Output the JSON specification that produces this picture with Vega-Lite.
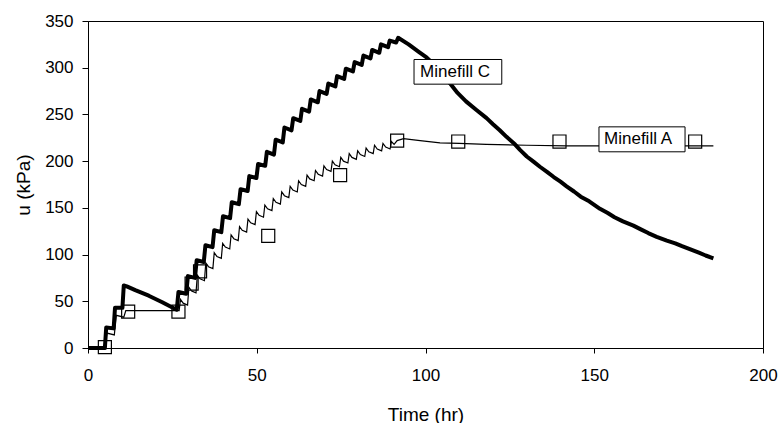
{
  "$schema": "https://vega.github.io/schema/vega-lite/v6.json",
  "width": 675,
  "height": 327,
  "autosize": "none",
  "padding": {"left": 88, "top": 21, "right": 17, "bottom": 75},
  "background": "white",
  "config": {
    "font": "Liberation Sans",
    "view": {"stroke": "black", "strokeWidth": 1},
    "axis": {
      "grid": false,
      "domainColor": "black",
      "tickColor": "black",
      "labelColor": "black",
      "titleColor": "black",
      "labelFont": "Liberation Sans",
      "titleFont": "Liberation Sans",
      "labelFontSize": 17,
      "titleFontSize": 19,
      "titleFontWeight": "normal"
    }
  },
  "datasets": {
    "C": [
      {"t": 0, "u": 0}, {"t": 5, "u": 0}, {"t": 5.4, "u": 22}, {"t": 7.6, "u": 21}, {"t": 8, "u": 43}, {"t": 10.2, "u": 43},
      {"t": 10.6, "u": 67}, {"t": 11.5, "u": 66}, {"t": 14, "u": 62}, {"t": 18, "u": 56}, {"t": 22, "u": 49}, {"t": 26.3, "u": 41},
      {"t": 26.8, "u": 60}, {"t": 29.1, "u": 58}, {"t": 29.6, "u": 77}, {"t": 31.7, "u": 75}, {"t": 32.2, "u": 94},
      {"t": 34.3, "u": 92}, {"t": 34.8, "u": 110}, {"t": 36.9, "u": 108}, {"t": 37.4, "u": 126},
      {"t": 39.5, "u": 124}, {"t": 40.0, "u": 141}, {"t": 42.1, "u": 139}, {"t": 42.6, "u": 156},
      {"t": 44.7, "u": 154}, {"t": 45.2, "u": 170}, {"t": 47.3, "u": 168}, {"t": 47.8, "u": 184},
      {"t": 49.9, "u": 182}, {"t": 50.4, "u": 197}, {"t": 52.5, "u": 195}, {"t": 53.0, "u": 210},
      {"t": 55.1, "u": 207}, {"t": 55.6, "u": 223}, {"t": 57.7, "u": 220}, {"t": 58.2, "u": 236},
      {"t": 60.3, "u": 233}, {"t": 60.8, "u": 246}, {"t": 62.9, "u": 243}, {"t": 63.4, "u": 256},
      {"t": 65.5, "u": 253}, {"t": 66.0, "u": 266}, {"t": 68.1, "u": 263}, {"t": 68.6, "u": 275},
      {"t": 70.7, "u": 272}, {"t": 71.2, "u": 283}, {"t": 73.3, "u": 280}, {"t": 73.8, "u": 291},
      {"t": 75.9, "u": 288}, {"t": 76.4, "u": 299}, {"t": 78.5, "u": 296}, {"t": 79.0, "u": 306},
      {"t": 81.1, "u": 303}, {"t": 81.6, "u": 313}, {"t": 83.7, "u": 310}, {"t": 84.2, "u": 319},
      {"t": 86.3, "u": 316}, {"t": 86.8, "u": 325}, {"t": 88.9, "u": 322}, {"t": 89.4, "u": 329},
      {"t": 91.3, "u": 327}, {"t": 91.9, "u": 332},
      {"t": 95, "u": 325}, {"t": 98, "u": 317}, {"t": 100.3, "u": 311}, {"t": 102, "u": 305}, {"t": 104, "u": 297},
      {"t": 107.3, "u": 283}, {"t": 109.5, "u": 273}, {"t": 112, "u": 264}, {"t": 115, "u": 255}, {"t": 118.1, "u": 246},
      {"t": 120, "u": 239.5}, {"t": 122, "u": 233}, {"t": 124, "u": 226}, {"t": 126.5, "u": 218}, {"t": 128, "u": 212},
      {"t": 130, "u": 205}, {"t": 132, "u": 199.5}, {"t": 133.9, "u": 194}, {"t": 136, "u": 188.5}, {"t": 138, "u": 183},
      {"t": 140, "u": 178}, {"t": 141.8, "u": 173}, {"t": 144, "u": 167.5}, {"t": 146, "u": 162}, {"t": 148.5, "u": 157},
      {"t": 151.7, "u": 149}, {"t": 154, "u": 144.5}, {"t": 156, "u": 140}, {"t": 158.5, "u": 135.5}, {"t": 161.6, "u": 131},
      {"t": 163.8, "u": 127}, {"t": 166, "u": 123}, {"t": 168.5, "u": 119}, {"t": 171.5, "u": 115}, {"t": 174, "u": 112},
      {"t": 176, "u": 109}, {"t": 178.5, "u": 105.5}, {"t": 181, "u": 102}, {"t": 183, "u": 99}, {"t": 185.3, "u": 96}
    ],
    "A": [
      {"t": 0, "u": 0}, {"t": 5, "u": 0}, {"t": 5.6, "u": 16}, {"t": 7.8, "u": 14}, {"t": 8.4, "u": 35}, {"t": 10.6, "u": 33},
      {"t": 11.2, "u": 40}, {"t": 27.0, "u": 40},
      {"t": 27.4, "u": 52}, {"t": 28.2, "u": 48}, {"t": 29.5, "u": 46},
      {"t": 29.9, "u": 65}, {"t": 30.7, "u": 61}, {"t": 32.0, "u": 59},
      {"t": 32.4, "u": 78}, {"t": 33.2, "u": 74}, {"t": 34.5, "u": 72},
      {"t": 34.9, "u": 91}, {"t": 35.7, "u": 87}, {"t": 37.0, "u": 85},
      {"t": 37.4, "u": 102}, {"t": 38.2, "u": 98}, {"t": 39.5, "u": 96},
      {"t": 39.9, "u": 112}, {"t": 40.7, "u": 108}, {"t": 42.0, "u": 106},
      {"t": 42.4, "u": 121}, {"t": 43.2, "u": 117}, {"t": 44.5, "u": 115},
      {"t": 44.9, "u": 130}, {"t": 45.7, "u": 126}, {"t": 47.0, "u": 124},
      {"t": 47.4, "u": 138}, {"t": 48.2, "u": 134}, {"t": 49.5, "u": 132},
      {"t": 49.9, "u": 146}, {"t": 50.7, "u": 142}, {"t": 52.0, "u": 140},
      {"t": 52.4, "u": 153}, {"t": 53.2, "u": 149}, {"t": 54.5, "u": 147},
      {"t": 54.9, "u": 160}, {"t": 55.7, "u": 156}, {"t": 57.0, "u": 154},
      {"t": 57.4, "u": 167}, {"t": 58.2, "u": 163}, {"t": 59.5, "u": 161},
      {"t": 59.9, "u": 173}, {"t": 60.7, "u": 169}, {"t": 62.0, "u": 167},
      {"t": 62.4, "u": 179}, {"t": 63.2, "u": 175}, {"t": 64.5, "u": 173},
      {"t": 64.9, "u": 185}, {"t": 65.7, "u": 181}, {"t": 67.0, "u": 179},
      {"t": 67.4, "u": 190}, {"t": 68.2, "u": 186}, {"t": 69.5, "u": 184},
      {"t": 69.9, "u": 195}, {"t": 70.7, "u": 191}, {"t": 72.0, "u": 189},
      {"t": 72.4, "u": 200}, {"t": 73.2, "u": 196}, {"t": 74.5, "u": 194},
      {"t": 74.9, "u": 204}, {"t": 75.7, "u": 200}, {"t": 77.0, "u": 198},
      {"t": 77.4, "u": 208}, {"t": 78.2, "u": 204}, {"t": 79.5, "u": 202},
      {"t": 79.9, "u": 211}, {"t": 80.7, "u": 207}, {"t": 82.0, "u": 205},
      {"t": 82.4, "u": 214}, {"t": 83.2, "u": 210}, {"t": 84.5, "u": 208},
      {"t": 84.9, "u": 217}, {"t": 85.7, "u": 213}, {"t": 87.0, "u": 211},
      {"t": 87.4, "u": 219}, {"t": 88.2, "u": 215}, {"t": 89.5, "u": 213},
      {"t": 89.9, "u": 221}, {"t": 90.7, "u": 218}, {"t": 91.6, "u": 222}, {"t": 93.5, "u": 224},
      {"t": 98.4, "u": 222}, {"t": 104.3, "u": 219.6}, {"t": 110, "u": 219}, {"t": 118, "u": 218},
      {"t": 130, "u": 217}, {"t": 141.8, "u": 216.4}, {"t": 185.3, "u": 216.4}
    ],
    "Aobs": [
      {"t": 5, "u": 1}, {"t": 11.9, "u": 39}, {"t": 26.8, "u": 39}, {"t": 30.7, "u": 69}, {"t": 33.2, "u": 82},
      {"t": 53.4, "u": 120}, {"t": 74.7, "u": 185}, {"t": 91.6, "u": 222}, {"t": 109.7, "u": 221},
      {"t": 139.7, "u": 221}, {"t": 179.9, "u": 221}
    ],
    "boxes": [
      {"t": 96.6, "t2": 122.6, "u": 308.8, "u2": 282.4},
      {"t": 151.4, "t2": 176.9, "u": 236.7, "u2": 210}
    ],
    "labels": [
      {"t": 98.4, "u": 295.5, "label": "Minefill C"},
      {"t": 152.9, "u": 223.3, "label": "Minefill A"}
    ]
  },
  "encoding": {
    "x": {
      "field": "t", "type": "quantitative",
      "scale": {"domain": [0, 200], "nice": false, "zero": false},
      "axis": {"title": "Time (hr)", "values": [0, 50, 100, 150, 200], "tickSize": 5, "labelPadding": 14, "titlePadding": 22, "labelFlush": false}
    },
    "y": {
      "field": "u", "type": "quantitative",
      "scale": {"domain": [0, 350], "nice": false},
      "axis": {"title": "u (kPa)", "values": [0, 50, 100, 150, 200, 250, 300, 350], "tickSize": 6, "labelPadding": 9, "titlePadding": 11}
    }
  },
  "layer": [
    {"data": {"name": "A"}, "mark": {"type": "line", "color": "black", "strokeWidth": 1.2}},
    {"data": {"name": "C"}, "mark": {"type": "line", "color": "black", "strokeWidth": 4, "strokeJoin": "round"}},
    {"data": {"name": "Aobs"}, "mark": {"type": "point", "shape": "square", "size": 170, "filled": false, "stroke": "black", "strokeWidth": 1.2, "opacity": 1}},
    {"data": {"name": "boxes"}, "mark": {"type": "rect", "fill": "white", "stroke": "black", "strokeWidth": 1},
     "encoding": {"x2": {"field": "t2"}, "y2": {"field": "u2"}}},
    {"data": {"name": "labels"}, "mark": {"type": "text", "align": "left", "baseline": "middle", "fontSize": 17, "font": "Liberation Sans", "color": "black"},
     "encoding": {"text": {"field": "label"}}}
  ]
}
